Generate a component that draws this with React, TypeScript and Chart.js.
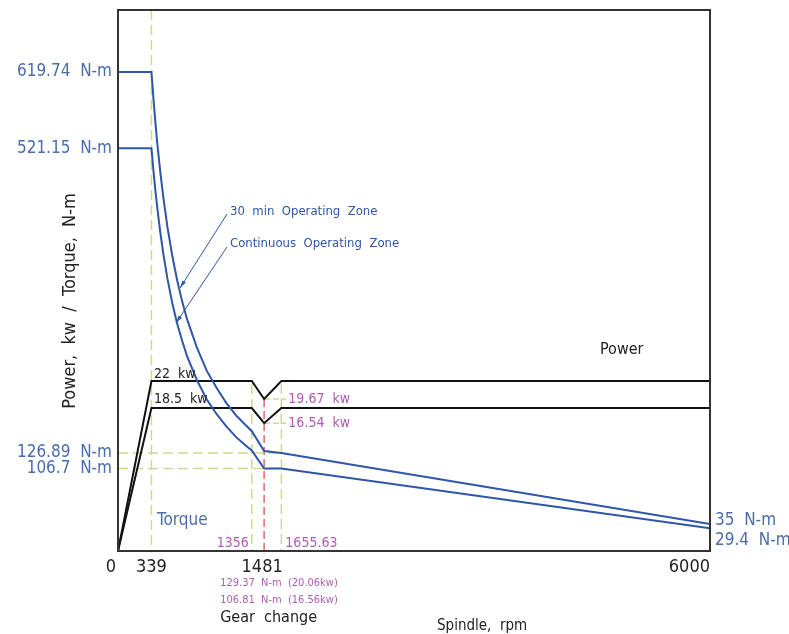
import React, { useEffect, useRef } from "react";
import { Chart, registerables } from "chart.js";

Chart.register(...registerables);

// ---- Data ----
const torque30Rpm = [0, 339, 360, 380, 400, 430, 460, 500, 550, 600, 650, 700, 800, 900, 1000, 1100, 1200, 1300, 1356, 1481, 1655.63, 6000];
const torque30 = [619.74, 619.74, 584, 553, 525, 489, 457, 420, 382, 350, 323, 300, 263, 233, 211, 191, 175, 162, 155, 129.37, 126.89, 35];

const torqueContRpm = [0, 339, 360, 380, 400, 430, 460, 500, 550, 600, 650, 700, 800, 900, 1000, 1100, 1200, 1300, 1356, 1481, 1655.63, 6000];
const torqueCont = [521.15, 521.15, 491, 465, 442, 411, 384, 353, 321, 294, 272, 252, 221, 196, 177, 161, 147, 136, 130, 106.81, 106.7, 29.4];

const powerRpm = [0, 339, 1356, 1481, 1655.63, 6000];
const power30 = [0, 22, 22, 19.67, 22, 22];
const powerCont = [0, 18.5, 18.5, 16.54, 18.5, 18.5];

const xTicks = [0, 339, 1481, 6000];
const gearRpm = 1481;
const gearLow = 1356;
const gearHigh = 1655.63;
const torqueLeftLabels = [
  { v: 619.74, t: "619.74  N-m" },
  { v: 521.15, t: "521.15  N-m" },
  { v: 126.89, t: "126.89  N-m" },
  { v: 106.7, t: "106.7  N-m" },
];
const torqueRightLabels = [
  { v: 35, t: "35  N-m" },
  { v: 29.4, t: "29.4  N-m" },
];

const BLUE = "#2f56a6";
const BLUE_TEXT = "#4a6cab";
const MAGENTA = "#b05cb4";
const GREEN = "#c9dc8e";
const RED = "#e06a6a";
const FONT = '"Liberation Sans Narrow", "DejaVu Sans Condensed", "Liberation Sans", Arial, sans-serif';

const toPts = (xs: number[], ys: number[]) => xs.map((x, i) => ({ x, y: ys[i] }));

const annotPlugin = {
  id: "annot",
  beforeDatasetsDraw(chart: any) {
    const { ctx, chartArea: a, scales } = chart;
    const x = scales.x, y = scales.y, y2 = scales.y2;
    ctx.save();
    ctx.lineWidth = 1.5;
    ctx.strokeStyle = GREEN;
    ctx.setLineDash([10, 5]);
    const vline = (rpm: number, top: number) => {
      const px = x.getPixelForValue(rpm);
      ctx.beginPath();
      ctx.moveTo(px, top);
      ctx.lineTo(px, a.bottom);
      ctx.stroke();
    };
    vline(339, a.top);
    vline(gearLow, y2.getPixelForValue(22) + 3);
    vline(gearHigh, y2.getPixelForValue(22) + 3);
    const hline = (val: number, x0: number, x1: number) => {
      const py = y.getPixelForValue(val);
      ctx.beginPath();
      ctx.moveTo(x0, py);
      ctx.lineTo(x1, py);
      ctx.stroke();
    };
    hline(126.89, a.left, x.getPixelForValue(gearHigh));
    hline(106.7, a.left, x.getPixelForValue(gearHigh));
    ctx.setLineDash([6, 3]);
    const dip = (kw: number) => {
      const py = y2.getPixelForValue(kw);
      ctx.beginPath();
      ctx.moveTo(x.getPixelForValue(gearRpm), py);
      ctx.lineTo(x.getPixelForValue(gearHigh) + 5, py);
      ctx.stroke();
    };
    dip(19.67);
    dip(16.54);
    ctx.strokeStyle = RED;
    ctx.setLineDash([8, 4]);
    const gx = x.getPixelForValue(gearRpm);
    ctx.beginPath();
    ctx.moveTo(gx, y2.getPixelForValue(19.67));
    ctx.lineTo(gx, a.bottom);
    ctx.stroke();
    ctx.restore();
  },
  afterDatasetsDraw(chart: any) {
    const { ctx, chartArea: a, scales } = chart;
    const x = scales.x, y = scales.y, y2 = scales.y2;
    ctx.save();
    ctx.strokeStyle = "#333";
    ctx.lineWidth = 2;
    ctx.setLineDash([]);
    ctx.strokeRect(a.left, a.top, a.right - a.left, a.bottom - a.top);

    const text = (t: string, px: number, py: number, size: number, color: string, align: CanvasTextAlign = "left") => {
      ctx.font = `${size}px ${FONT}`;
      ctx.fillStyle = color;
      ctx.textAlign = align;
      ctx.textBaseline = "middle";
      ctx.fillText(t, px, py);
    };

    torqueLeftLabels.forEach((l) => text(l.t, a.left - 6, y.getPixelForValue(l.v), 17, BLUE_TEXT, "right"));
    torqueRightLabels.forEach((l, i) => text(l.t, a.right + 5, y.getPixelForValue(l.v) + (i === 0 ? -3 : 12), 17, BLUE_TEXT, "left"));

    xTicks.forEach((v) => {
      const px = x.getPixelForValue(v);
      let align: CanvasTextAlign = "center";
      let dx = 0;
      if (v === 0) dx = -7;
      if (v === 1481) dx = -2;
      if (v === 6000) align = "right";
      text(String(v), px + dx, a.bottom + 16, 18, "#222", align);
    });

    const gx = x.getPixelForValue(gearRpm);
    text("129.37  N-m  (20.06kw)", gx - 44, a.bottom + 32, 11, MAGENTA, "left");
    text("106.81  N-m  (16.56kw)", gx - 44, a.bottom + 49, 11, MAGENTA, "left");
    text("Gear  change", gx - 44, a.bottom + 67, 16, "#222", "left");
    text("Spindle,  rpm", 437, a.bottom + 75, 15, "#222", "left");

    text("1356", x.getPixelForValue(gearLow) - 3, a.bottom - 8, 14, MAGENTA, "right");
    text("1655.63", x.getPixelForValue(gearHigh) + 4, a.bottom - 8, 14, MAGENTA, "left");

    text("Torque", 157, y.getPixelForValue(40), 17, BLUE_TEXT, "left");
    text("Power", 600, 350, 16, "#222", "left");
    text("22  kw", 154, y2.getPixelForValue(22) - 7, 14, "#222", "left");
    text("18.5  kw", 154, y2.getPixelForValue(18.5) - 9, 14, "#222", "left");
    text("19.67  kw", x.getPixelForValue(gearHigh) + 7, y2.getPixelForValue(19.67), 14, MAGENTA, "left");
    text("16.54  kw", x.getPixelForValue(gearHigh) + 7, y2.getPixelForValue(16.54), 14, MAGENTA, "left");

    text("30  min  Operating  Zone", 230, 212, 13, BLUE, "left");
    text("Continuous  Operating  Zone", 230, 244, 13, BLUE, "left");

    const leader = (x0: number, y0: number, x1: number, y1: number) => {
      ctx.strokeStyle = BLUE;
      ctx.lineWidth = 1;
      ctx.beginPath();
      ctx.moveTo(x0, y0);
      ctx.lineTo(x1, y1);
      ctx.stroke();
      const ang = Math.atan2(y1 - y0, x1 - x0);
      ctx.fillStyle = BLUE;
      ctx.beginPath();
      ctx.moveTo(x1, y1);
      ctx.lineTo(x1 - 8 * Math.cos(ang - 0.25), y1 - 8 * Math.sin(ang - 0.25));
      ctx.lineTo(x1 - 8 * Math.cos(ang + 0.25), y1 - 8 * Math.sin(ang + 0.25));
      ctx.closePath();
      ctx.fill();
    };
    leader(227, 214, 180, 288);
    leader(227, 247, 176, 323);

    ctx.save();
    ctx.translate(70, 301);
    ctx.rotate(-Math.PI / 2);
    text("Power,  kw  /  Torque,  N-m", 0, 0, 18, "#222", "center");
    ctx.restore();
    ctx.restore();
  },
};

export default function App() {
  const ref = useRef<HTMLCanvasElement>(null);
  useEffect(() => {
    if (!ref.current) return;
    const chart = new Chart(ref.current, {
      type: "line",
      data: {
        datasets: [
          { label: "30 min torque", data: toPts(torque30Rpm, torque30), borderColor: BLUE, borderWidth: 2, pointRadius: 0, tension: 0, yAxisID: "y" },
          { label: "Continuous torque", data: toPts(torqueContRpm, torqueCont), borderColor: BLUE, borderWidth: 2, pointRadius: 0, tension: 0, yAxisID: "y" },
          { label: "30 min power", data: toPts(powerRpm, power30), borderColor: "#111", borderWidth: 2, pointRadius: 0, tension: 0, yAxisID: "y2" },
          { label: "Continuous power", data: toPts(powerRpm, powerCont), borderColor: "#111", borderWidth: 2, pointRadius: 0, tension: 0, yAxisID: "y2" },
        ],
      },
      options: {
        responsive: false,
        animation: false,
        layout: { padding: { left: 118, right: 79, top: 10, bottom: 83 } },
        plugins: { legend: { display: false }, tooltip: { enabled: false } },
        scales: {
          x: { type: "linear", min: 0, max: 6000, display: false },
          y: { type: "linear", min: 0, max: 700, display: false },
          y2: { type: "linear", min: 0, max: 70, display: false },
        },
      },
      plugins: [annotPlugin],
    });
    return () => chart.destroy();
  }, []);
  return (
    <div style={{ position: "absolute", left: 0, top: 0, width: 789, height: 634, background: "#fff" }}>
      <canvas ref={ref} width={789} height={634} style={{ width: 789, height: 634 }} />
    </div>
  );
}
